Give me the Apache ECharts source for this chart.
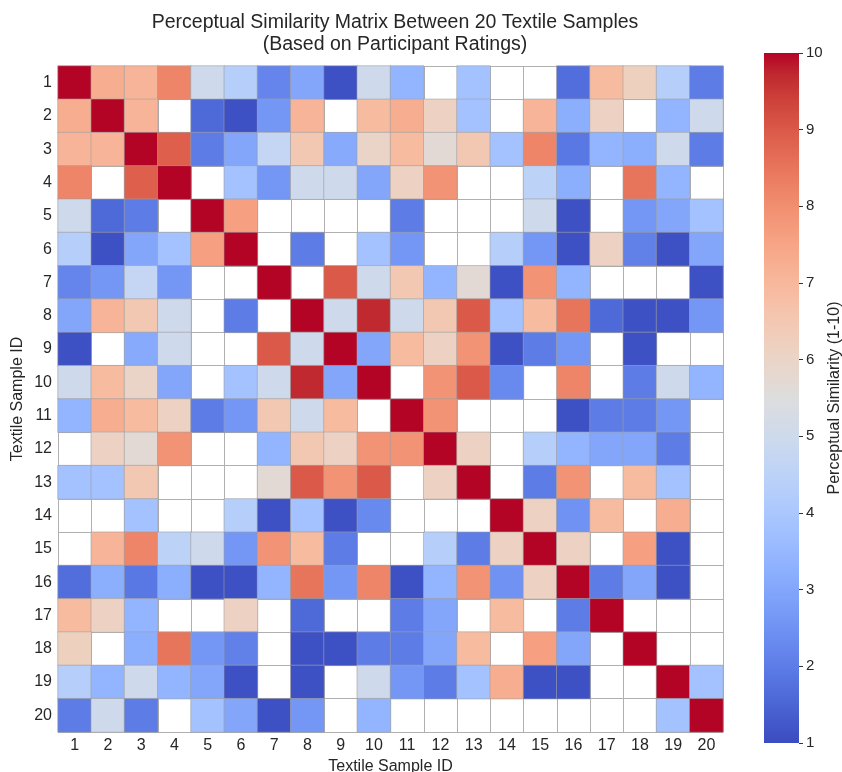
<!DOCTYPE html>
<html>
<head>
<meta charset="utf-8">
<script src="https://cdn.jsdelivr.net/npm/echarts@6/dist/echarts.min.js"></script>
<style>html,body{margin:0;padding:0;background:#fff}#c{width:842px;height:772px}</style>
</head>
<body>
<div id="c"></div>
<script>
const sampleIds = ['1','2','3','4','5','6','7','8','9','10','11','12','13','14','15','16','17','18','19','20'];
const colorbarTicks = [1,2,3,4,5,6,7,8,9,10];
const N = null;
const row1  = [10, 7.3, 7.1, 8.2, 5.0, 4.3, 2.2, 3.0, 1.1, 5.0, 3.4, N, 3.8, N, N, 1.7, 6.9, 6.2, 4.3, 2.0];
const row2  = [7.3, 10, 7.1, N, 1.6, 1.1, 2.6, 7.1, N, 6.9, 7.3, 6.1, 3.8, N, 7.1, 3.2, 6.1, N, 3.4, 5.0];
const row3  = [7.1, 7.1, 10, 8.9, 2.0, 3.0, 4.7, 6.5, 3.1, 6.0, 6.9, 5.7, 6.5, 3.8, 8.2, 1.9, 3.4, 3.2, 5.0, 2.0];
const row4  = [8.2, N, 8.9, 10, N, 3.8, 2.6, 5.0, 5.0, 3.0, 6.1, 7.9, N, N, 4.5, 3.2, N, 8.5, 3.4, N];
const row5  = [5.0, 1.6, 2.0, N, 10, 7.6, N, N, N, N, 2.0, N, N, N, 5.0, 1.1, N, 2.6, 3.0, 3.8];
const row6  = [4.3, 1.1, 3.0, 3.8, 7.6, 10, N, 2.0, N, 3.8, 2.6, N, N, 4.3, 2.6, 1.1, 6.1, 2.1, 1.1, 3.0];
const row7  = [2.2, 2.6, 4.7, 2.6, N, N, 10, N, 9.0, 5.0, 6.5, 3.4, 5.7, 1.1, 7.9, 3.4, N, N, N, 1.1];
const row8  = [3.0, 7.1, 6.5, 5.0, N, 2.0, N, 10, 5.0, 9.7, 5.0, 6.5, 9.0, 3.8, 6.9, 8.5, 1.6, 1.1, 1.1, 2.6];
const row9  = [1.1, N, 3.1, 5.0, N, N, 9.0, 5.0, 10, 3.0, 6.9, 6.1, 7.9, 1.1, 2.0, 2.6, N, 1.1, N, N];
const row10 = [5.0, 6.9, 6.0, 3.0, N, 3.8, 5.0, 9.7, 3.0, 10, N, 7.9, 9.0, 2.3, N, 8.2, N, 2.0, 5.0, 3.4];
const row11 = [3.4, 7.3, 6.9, 6.1, 2.0, 2.6, 6.5, 5.0, 6.9, N, 10, 7.9, N, N, N, 1.1, 2.0, 2.0, 2.6, N];
const row12 = [N, 6.1, 5.7, 7.9, N, N, 3.4, 6.5, 6.1, 7.9, 7.9, 10, 6.1, N, 4.3, 3.4, 3.0, 3.0, 2.0, N];
const row13 = [3.8, 3.8, 6.5, N, N, N, 5.7, 9.0, 7.9, 9.0, N, 6.1, 10, N, 2.0, 7.9, N, 6.9, 3.8, N];
const row14 = [N, N, 3.8, N, N, 4.3, 1.1, 3.8, 1.1, 2.3, N, N, N, 10, 6.1, 2.5, 6.9, N, 7.3, N];
const row15 = [N, 7.1, 8.2, 4.5, 5.0, 2.6, 7.9, 6.9, 2.0, N, N, 4.3, 2.0, 6.1, 10, 6.1, N, 7.6, 1.1, N];
const row16 = [1.7, 3.2, 1.9, 3.2, 1.1, 1.1, 3.4, 8.5, 2.6, 8.2, 1.1, 3.4, 7.9, 2.5, 6.1, 10, 2.0, 3.0, 1.1, N];
const row17 = [6.9, 6.1, 3.4, N, N, 6.1, N, 1.6, N, N, 2.0, 3.0, N, 6.9, N, 2.0, 10, N, N, N];
const row18 = [6.2, N, 3.2, 8.5, 2.6, 2.1, N, 1.1, 1.1, 2.0, 2.0, 3.0, 6.9, N, 7.6, 3.0, N, 10, N, N];
const row19 = [4.3, 3.4, 5.0, 3.4, 3.0, 1.1, N, 1.1, N, 5.0, 2.6, 2.0, 3.8, 7.3, 1.1, 1.1, N, N, 10, 3.8];
const row20 = [2.0, 5.0, 2.0, N, 3.8, 3.0, 1.1, 2.6, N, 3.4, N, N, N, N, N, N, N, N, 3.8, 10];
const rows = [row1,row2,row3,row4,row5,row6,row7,row8,row9,row10,row11,row12,row13,row14,row15,row16,row17,row18,row19,row20];

const coolwarm = ['#3b4cc0','#445acc','#4d68d7','#5775e1','#6282ea','#6c8ef1','#779af7','#82a5fb','#8db0fe','#98b9ff','#a3c2ff','#aec9fd','#b8d0f9','#c2d5f4','#ccd9ee','#d5dbe6','#dddddd','#e5d8d1','#ecd3c5','#f1ccb9','#f5c4ad','#f7bba0','#f7b194','#f7a687','#f49a7b','#f18d6f','#ec7f63','#e57058','#de604d','#d55042','#cb3e38','#c0282f','#b40426'];

const cells = [];
rows.forEach((r, i) => r.forEach((v, j) => cells.push([j, i, v === null ? '-' : v])));

const vMin = colorbarTicks[0], vMax = colorbarTicks[colorbarTicks.length - 1];
const gradient = new echarts.graphic.LinearGradient(0, 1, 0, 0,
  coolwarm.map((c, k) => ({offset: k / (coolwarm.length - 1), color: c})));

const txt = '#262626';
const font = 'Liberation Sans, Arial, sans-serif';
const chart = echarts.init(document.getElementById('c'), null, {renderer: 'canvas'});
chart.setOption({
  backgroundColor: '#fff',
  animation: false,
  textStyle: {fontFamily: font},
  title: {
    text: 'Perceptual Similarity Matrix Between 20 Textile Samples\n(Based on Participant Ratings)',
    left: 390, top: 7, textAlign: 'center',
    textStyle: {fontSize: 19.5, fontWeight: 'normal', color: txt, lineHeight: 22, fontFamily: font}
  },
  grid: [
    {left: 58, top: 66, width: 665, height: 666, containLabel: false, outerBoundsMode: 'none'},
    {left: 764, top: 53, width: 35, height: 690, containLabel: false, outerBoundsMode: 'none'}
  ],
  xAxis: [{
    type: 'category', data: sampleIds, gridIndex: 0,
    axisLine: {show: false}, axisTick: {show: false},
    axisLabel: {fontSize: 16, color: txt, margin: 6, interval: 0},
    splitLine: {show: true, interval: 0, lineStyle: {color: '#b0b0b0', width: 1}},
    name: 'Textile Sample ID', nameLocation: 'middle', nameGap: 24,
    nameTextStyle: {fontSize: 16, color: txt}
  }, {
    type: 'category', gridIndex: 1, show: false, data: ['cb']
  }],
  yAxis: [{
    type: 'category', data: sampleIds, gridIndex: 0, inverse: true,
    axisLine: {show: false}, axisTick: {show: false},
    axisLabel: {fontSize: 16, color: txt, margin: 6, interval: 0},
    splitLine: {show: true, interval: 0, lineStyle: {color: '#b0b0b0', width: 1}},
    name: 'Textile Sample ID', nameLocation: 'middle', nameGap: 32, nameMoveOverlap: false,
    nameTextStyle: {fontSize: 16, color: txt}
  }, {
    type: 'value', gridIndex: 1, min: vMin, max: vMax, interval: 1,
    position: 'right',
    axisLine: {show: false},
    axisTick: {show: true, length: 4, lineStyle: {color: '#333'}},
    axisLabel: {fontSize: 15, color: txt, margin: 7},
    splitLine: {show: false},
    name: 'Perceptual Similarity (1-10)', nameLocation: 'middle', nameGap: 27,
    nameTextStyle: {fontSize: 16, color: txt}
  }],
  visualMap: {
    type: 'continuous', min: vMin, max: vMax, seriesIndex: 0, show: false,
    inRange: {color: coolwarm}
  },
  series: [{
    type: 'heatmap', xAxisIndex: 0, yAxisIndex: 0,
    data: cells,
    itemStyle: {borderColor: '#a0a0a0', borderWidth: 0.6},
    emphasis: {disabled: true},
    label: {show: false}
  }, {
    type: 'bar', xAxisIndex: 1, yAxisIndex: 1,
    data: [vMax], barWidth: '100%', silent: true,
    itemStyle: {color: gradient}
  }]
});
</script>
</body>
</html>
